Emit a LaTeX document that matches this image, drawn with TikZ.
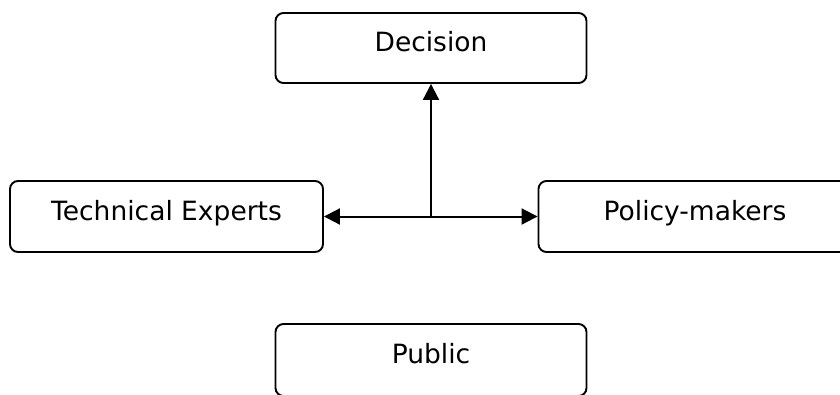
\documentclass[tikz,border=0pt]{standalone}
\usepackage{fontspec}
\setmainfont{DejaVu Sans}
\usetikzlibrary{arrows.meta}
\begin{document}
\begin{tikzpicture}[x=1pt,y=-1pt,
  box/.style={draw=black,line width=1.9pt,rounded corners=8pt,rectangle,
    minimum width=311pt,minimum height=70pt,inner sep=0pt,
    font=\fontsize{26.5}{30}\selectfont,text height=18.8pt,text depth=11pt},
  conn/.style={line width=2pt,-{Triangle[length=16pt,width=16pt]}},
  conn2/.style={line width=2pt,{Triangle[length=16pt,width=16pt]}-{Triangle[length=16pt,width=16pt]}}]
\useasboundingbox (0,0) rectangle (840,394);
\clip (0,0) rectangle (840,394);
\fill[white] (0,0) rectangle (840,394);
\node[box] (dec) at (431,48) {Decision};
\node[box,minimum width=313pt,minimum height=71pt] (tech) at (166.5,216.5) {Technical Experts};
\node[box,minimum width=313pt,minimum height=71pt] (pol) at (695,216.5) {Policy-makers};
\node[box,minimum height=72pt] (pub) at (431,360) {Public};
\draw[conn2] (tech.east) -- (pol.west);
\coordinate (j) at (431,216.5);
\draw[conn] (j) -- (dec.south);
\end{tikzpicture}
\end{document}
